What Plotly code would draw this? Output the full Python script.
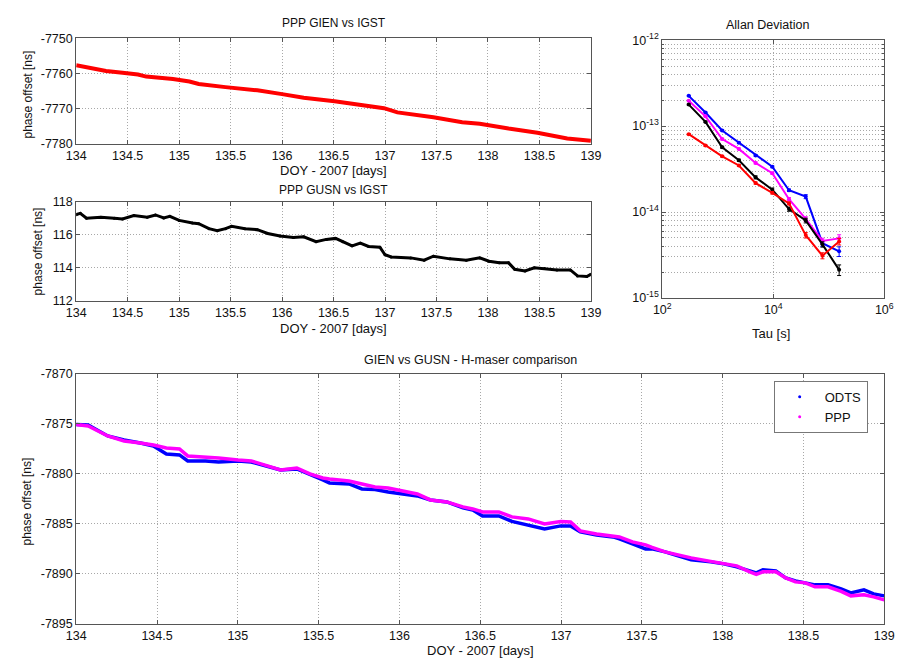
import plotly.graph_objects as go

# ---------------- data ----------------
# PPP GIEN vs IGST (DOY 2007, phase offset in ns)
gien_doy = [134.00, 134.10, 134.20, 134.29, 134.45, 134.60, 134.68, 134.80, 134.94,
            135.10, 135.19, 135.45, 135.76, 136.00, 136.21, 136.51, 136.71, 136.99,
            137.12, 137.30, 137.47, 137.75, 137.92, 138.20, 138.48, 138.77, 139.00]
gien_off = [-7757.7, -7758.2, -7758.8, -7759.3, -7759.8, -7760.3, -7760.9, -7761.1, -7761.6,
            -7762.3, -7763.0, -7763.9, -7764.8, -7765.9, -7766.9, -7767.9, -7768.7, -7769.9,
            -7771.1, -7771.7, -7772.5, -7773.9, -7774.3, -7775.7, -7776.9, -7778.5, -7779.2]

# PPP GUSN vs IGST
gusn_doy = [134.00, 134.04, 134.10, 134.24, 134.37, 134.45, 134.56, 134.69, 134.77, 134.85,
            134.91, 135.00, 135.13, 135.19, 135.29, 135.37, 135.45, 135.51, 135.64, 135.76,
            135.86, 135.98, 136.11, 136.21, 136.33, 136.43, 136.52, 136.59, 136.68, 136.76,
            136.84, 136.95, 137.00, 137.06, 137.25, 137.38, 137.47, 137.63, 137.79, 137.92,
            138.01, 138.11, 138.20, 138.26, 138.36, 138.45, 138.55, 138.67, 138.80, 138.87,
            138.96, 139.00]
gusn_off = [117.22, 117.30, 117.00, 117.06, 117.00, 116.96, 117.16, 117.06, 117.20, 117.02,
            117.12, 116.87, 116.71, 116.67, 116.37, 116.24, 116.37, 116.51, 116.37, 116.31,
            116.08, 115.92, 115.84, 115.88, 115.58, 115.72, 115.78, 115.58, 115.33, 115.49,
            115.29, 115.25, 114.79, 114.66, 114.60, 114.46, 114.70, 114.54, 114.46, 114.60,
            114.40, 114.30, 114.30, 113.91, 113.81, 114.00, 113.96, 113.87, 113.87, 113.51,
            113.47, 113.61]

# GIEN vs GUSN H-maser comparison
cmp_doy = [134.000, 134.074, 134.195, 134.296, 134.397, 134.478, 134.558, 134.639, 134.690,
           134.800, 134.881, 135.002, 135.083, 135.204, 135.264, 135.365, 135.446, 135.526,
           135.567, 135.688, 135.768, 135.849, 135.930, 136.010, 136.111, 136.192, 136.293,
           136.393, 136.454, 136.514, 136.615, 136.696, 136.797, 136.898, 136.998, 137.059,
           137.119, 137.220, 137.321, 137.361, 137.442, 137.523, 137.563, 137.644, 137.724,
           137.805, 137.926, 138.007, 138.087, 138.168, 138.208, 138.249, 138.329, 138.390,
           138.450, 138.511, 138.571, 138.652, 138.733, 138.793, 138.874, 138.934, 139.000]
odts_off = [-7875.05, -7875.1, -7876.2, -7876.6, -7876.9, -7877.2, -7878.0, -7878.1, -7878.7,
            -7878.7, -7878.8, -7878.7, -7878.8, -7879.3, -7879.6, -7879.5, -7880.1, -7880.6,
            -7880.9, -7881.0, -7881.5, -7881.55, -7881.8, -7882.0, -7882.2, -7882.6, -7882.8,
            -7883.4, -7883.6, -7884.2, -7884.2, -7884.75, -7885.1, -7885.5, -7885.2, -7885.2,
            -7885.8, -7886.1, -7886.3, -7886.5, -7887.0, -7887.5, -7887.5, -7887.8, -7888.2,
            -7888.6, -7888.8, -7889.0, -7889.3, -7889.7, -7889.9, -7889.6, -7889.7, -7890.4,
            -7890.7, -7890.9, -7891.1, -7891.1, -7891.5, -7891.9, -7891.6, -7892.0, -7892.2]
ppp_off = [-7875.05, -7875.2, -7876.2, -7876.7, -7876.9, -7877.1, -7877.4, -7877.5, -7878.2,
           -7878.3, -7878.4, -7878.6, -7878.7, -7879.3, -7879.6, -7879.4, -7880.0, -7880.4,
           -7880.5, -7880.7, -7881.0, -7881.3, -7881.4, -7881.7, -7882.0, -7882.6, -7882.8,
           -7883.3, -7883.5, -7883.8, -7883.8, -7884.3, -7884.5, -7885.0, -7884.75, -7884.8,
           -7885.7, -7886.0, -7886.2, -7886.3, -7886.8, -7887.1, -7887.35, -7887.8, -7888.1,
           -7888.4, -7888.75, -7889.0, -7889.2, -7889.8, -7890.05, -7889.8, -7889.8, -7890.4,
           -7890.8, -7890.9, -7891.3, -7891.3, -7891.75, -7892.2, -7892.1, -7892.3, -7892.6]

# Allan deviation
tau = [300, 600, 1200, 2400, 4800, 9600, 19200, 38400, 76800, 153600]
adev_odts = [2.25e-13, 1.44e-13, 8.9e-14, 6.4e-14, 4.56e-14, 3.36e-14, 1.79e-14, 1.51e-14, 4.33e-15, 3.48e-15]
adev_ppp = [1.97e-13, 1.30e-13, 7.06e-14, 5.43e-14, 3.73e-14, 2.83e-14, 1.41e-14, 8.3e-15, 4.6e-15, 4.93e-15]
adev_gusn = [1.78e-13, 1.12e-13, 5.67e-14, 4.0e-14, 2.53e-14, 1.82e-14, 1.08e-14, 7.96e-15, 4.2e-15, 2.12e-15]
adev_gien = [8.05e-14, 5.93e-14, 4.45e-14, 3.48e-14, 2.17e-14, 1.67e-14, 1.26e-14, 5.38e-15, 3.1e-15, 4.53e-15]
err_odts = [3e-15, 2e-15, 1.5e-15, 1.2e-15, 1.0e-15, 0.8e-15, 0.6e-15, 0.8e-15, 0.35e-15, 0.45e-15]
err_ppp = [3e-15, 2e-15, 1.5e-15, 1.2e-15, 1.0e-15, 0.8e-15, 0.6e-15, 0.5e-15, 0.35e-15, 0.5e-15]
err_gusn = [3e-15, 2e-15, 1.5e-15, 1.2e-15, 1.0e-15, 0.8e-15, 0.6e-15, 0.5e-15, 0.3e-15, 0.3e-15]
err_gien = [1.5e-15, 1.2e-15, 1.0e-15, 0.8e-15, 0.6e-15, 0.5e-15, 0.5e-15, 0.4e-15, 0.25e-15, 0.4e-15]

doy_ticks = [134, 134.5, 135, 135.5, 136, 136.5, 137, 137.5, 138, 138.5, 139]
gien_ticks = [-7780, -7770, -7760, -7750]
gusn_ticks = [112, 114, 116, 118]
cmp_ticks = [-7895, -7890, -7885, -7880, -7875, -7870]
adev_yticks = [1e-15, 1e-14, 1e-13, 1e-12]
adev_ylabels = ["10<sup>-15</sup>", "10<sup>-14</sup>", "10<sup>-13</sup>", "10<sup>-12</sup>"]
adev_xticks = [1e2, 1e4, 1e6]
adev_xlabels = ["10<sup>2</sup>", "10<sup>4</sup>", "10<sup>6</sup>"]

# ---------------- figure ----------------
W, H = 907, 665
FONT = "Arial, Liberation Sans, Helvetica, sans-serif"

fig = go.Figure()

fig.add_trace(go.Scatter(x=gien_doy, y=gien_off, mode="lines",
                         line=dict(color="#ff0000", width=4), showlegend=False,
                         xaxis="x", yaxis="y"))
fig.add_trace(go.Scatter(x=gusn_doy, y=gusn_off, mode="lines+markers",
                         line=dict(color="#000000", width=3), marker=dict(size=3, color="#000000"),
                         showlegend=False, xaxis="x2", yaxis="y2"))

for name, vals, err, col in [("ODTS GIEN-GUSN", adev_odts, err_odts, "#0000ff"),
                             ("PPP GIEN-GUSN", adev_ppp, err_ppp, "#ff00ff"),
                             ("GUSN", adev_gusn, err_gusn, "#000000"),
                             ("GIEN", adev_gien, err_gien, "#ff0000")]:
    fig.add_trace(go.Scatter(x=tau, y=vals, mode="lines+markers", name=name,
                             line=dict(color=col, width=2), marker=dict(size=4, color=col),
                             error_y=dict(type="data", array=err, color=col, thickness=1, width=2),
                             showlegend=False, xaxis="x3", yaxis="y3"))

fig.add_trace(go.Scatter(x=cmp_doy, y=odts_off, mode="lines",
                         line=dict(color="#0000ff", width=3.5), showlegend=False,
                         xaxis="x4", yaxis="y4"))
fig.add_trace(go.Scatter(x=cmp_doy, y=ppp_off, mode="lines",
                         line=dict(color="#ff00ff", width=3.5), showlegend=False,
                         xaxis="x4", yaxis="y4"))
# legend entries drawn as single dots
fig.add_trace(go.Scatter(x=[None], y=[None], mode="markers", name="ODTS",
                         marker=dict(color="#0000ff", size=3), xaxis="x4", yaxis="y4"))
fig.add_trace(go.Scatter(x=[None], y=[None], mode="markers", name="PPP",
                         marker=dict(color="#ff00ff", size=3), xaxis="x4", yaxis="y4"))


def px_x(p):
    return p / W


def px_y(p):
    return 1 - p / H


def labels(vals):
    return [f"{v:g}" for v in vals]


axis_common = dict(showline=True, linecolor="#555555", linewidth=1, mirror="ticks",
                   ticks="inside", ticklen=4, tickcolor="#555555",
                   showgrid=True, gridcolor="#a8a8a8", griddash="1px,2px", gridwidth=1,
                   zeroline=False, tickfont=dict(size=12.5, color="#111111", family=FONT))

doy_axis = dict(axis_common, range=[134, 139], tickvals=doy_ticks, ticktext=labels(doy_ticks))

fig.update_layout(
    width=W, height=H,
    margin=dict(l=0, r=0, t=0, b=0),
    paper_bgcolor="white", plot_bgcolor="white",
    font=dict(family=FONT, size=12, color="#111111"),
    xaxis=dict(doy_axis, domain=[px_x(67.7), px_x(594)], anchor="y"),
    yaxis=dict(axis_common, domain=[px_y(138), px_y(30)], range=[-7780, -7750],
               tickvals=gien_ticks, ticktext=labels(gien_ticks), anchor="x"),
    xaxis2=dict(doy_axis, domain=[px_x(67.7), px_x(594)], anchor="y2"),
    yaxis2=dict(axis_common, domain=[px_y(299), px_y(197.5)], range=[112, 118],
                tickvals=gusn_ticks, ticktext=labels(gusn_ticks), anchor="x2"),
    xaxis3=dict(axis_common, type="log", domain=[px_x(667), px_x(894)], range=[2, 6],
                tickvals=adev_xticks, ticktext=adev_xlabels, anchor="y3"),
    yaxis3=dict(axis_common, type="log", domain=[px_y(296), px_y(32)], range=[-15, -12],
                tickvals=adev_yticks, ticktext=adev_ylabels, anchor="x3",
                minor=dict(dtick="D1", showgrid=True, gridcolor="#a8a8a8", griddash="1px,2px",
                           ticks="inside", ticklen=2, tickcolor="#555555")),
    xaxis4=dict(doy_axis, domain=[px_x(67.7), px_x(894)], anchor="y4"),
    yaxis4=dict(axis_common, domain=[px_y(630), px_y(374)], range=[-7895, -7870],
                tickvals=cmp_ticks, ticktext=labels(cmp_ticks), anchor="x4"),
    legend=dict(x=px_x(877), y=px_y(381), xanchor="right", yanchor="top",
                bordercolor="#777777", borderwidth=1, bgcolor="white",
                font=dict(size=13, family=FONT), itemwidth=40,
                tracegroupgap=0),
)

texts = [
    ("PPP GIEN vs IGST", 331, 14, 0, 12),
    ("DOY - 2007 [days]", 331, 165, 0, 13),
    ("PPP GUSN vs IGST", 331, 185, 0, 12),
    ("DOY - 2007 [days]", 331, 327, 0, 13),
    ("Allan Deviation", 775, 16, 0, 12.5),
    ("Tau [s]", 778, 332, 0, 13),
    ("GIEN vs GUSN - H-maser comparison", 471, 360, 0, 12.5),
    ("DOY - 2007 [days]", 481, 657, 0, 13),
    ("phase offset [ns]", 18, 88, -90, 12),
    ("phase offset [ns]", 29, 248, -90, 12),
    ("phase offset [ns]", 17, 505, -90, 12),
]
for txt, x, y, ang, sz in texts:
    fig.add_annotation(text=txt, x=px_x(x), y=px_y(y), xref="paper", yref="paper",
                       showarrow=False, textangle=ang, xanchor="center", yanchor="middle",
                       font=dict(size=sz, family=FONT, color="#111111"))

fig.write_html("out.html")
